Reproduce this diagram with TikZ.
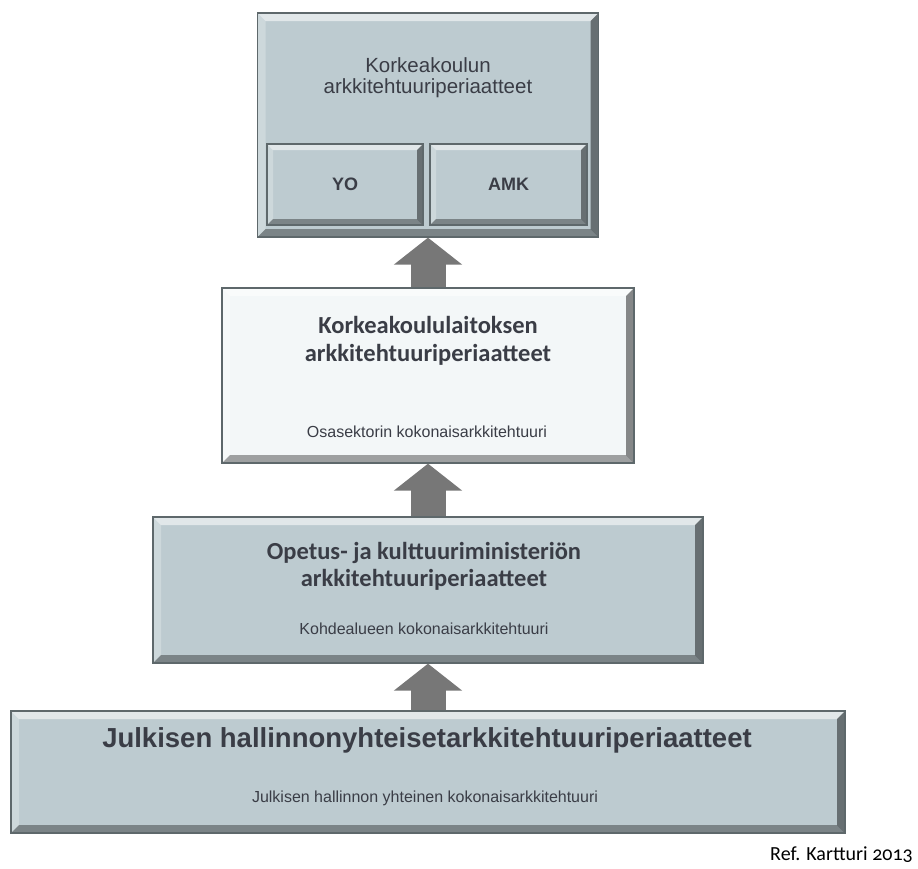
\documentclass[tikz,border=0pt]{standalone}
\usepackage{fontspec}
\setmainfont{Liberation Sans}
\newfontfamily\calfont{Carlito}
\newfontfamily\reffont[Numbers=OldStyle]{Carlito}
\usetikzlibrary{arrows.meta, calc}

\definecolor{platefill}{HTML}{BDCBD0}
\definecolor{paperfill}{HTML}{F3F7F8}
\definecolor{edgegray}{HTML}{5E686B}
\definecolor{arrowgray}{HTML}{777777}
\definecolor{inkgray}{HTML}{3A3D46}

\tikzset{
  bevel/.store in=\bevw, bevel=8pt,
  plate/.style={rectangle, draw=edgegray, line width=1.3pt, inner sep=0pt,
    path picture={
      \coordinate (pa) at (path picture bounding box.north west);
      \coordinate (pb) at (path picture bounding box.north east);
      \coordinate (pc) at (path picture bounding box.south east);
      \coordinate (pd) at (path picture bounding box.south west);
      % light top and left, dark right and bottom
      \fill[white, opacity=.55] (pa) -- (pb) -- ($(pb)+(-\bevw,-\bevw)$) -- ($(pa)+(\bevw,-\bevw)$) -- cycle;
      \fill[white, opacity=.25] (pa) -- (pd) -- ($(pd)+(\bevw,\bevw)$) -- ($(pa)+(\bevw,-\bevw)$) -- cycle;
      \fill[black, opacity=.45] (pb) -- (pc) -- ($(pc)+(-\bevw,\bevw)$) -- ($(pb)+(-\bevw,-\bevw)$) -- cycle;
      \fill[black, opacity=.35] (pd) -- (pc) -- ($(pc)+(-\bevw,\bevw)$) -- ($(pd)+(\bevw,\bevw)$) -- cycle;
    }},
  uparrow/.style={draw=arrowgray, line width=35pt,
    -{Triangle[width=67pt, length=27pt]}},
  txt/.style={text=inkgray, align=center, inner sep=0pt},
}

\begin{document}
\begin{tikzpicture}[x=1pt, y=-1pt]
  \useasboundingbox (0,0) rectangle (918,868);

  \node[plate, fill=platefill, minimum width=341pt, minimum height=224pt] (hei) at (428,125) {};
  \node[plate, fill=platefill, bevel=6pt, minimum width=156pt, minimum height=81pt,
        font=\bfseries\fontsize{18}{20}\selectfont, text=inkgray] (yo) at (345,184.5) {YO};
  \node[plate, fill=platefill, bevel=6pt, minimum width=157pt, minimum height=81pt,
        font=\bfseries\fontsize{18}{20}\selectfont, text=inkgray] (amk) at (508.5,184.5) {AMK};
  \node[txt, font=\fontsize{20.5}{21}\selectfont] (heit) at (428,78) {Korkeakoulun\\arkkitehtuuriperiaatteet};

  \node[plate, fill=paperfill, minimum width=412pt, minimum height=175pt] (inst) at (428,375.5) {};
  \node[txt, font=\calfont\bfseries\fontsize{24.5}{28}\selectfont] (instt) at (428,341) {Korkeakoululaitoksen\\arkkitehtuuriperiaatteet};
  \node[txt, font=\fontsize{16}{17}\selectfont] (insts) at (427,432) {Osasektorin kokonaisarkkitehtuuri};

  \node[plate, fill=platefill, minimum width=550pt, minimum height=146pt] (okm) at (428,590) {};
  \node[txt, font=\calfont\bfseries\fontsize{24.5}{27}\selectfont] (okmt) at (424,566.5) {Opetus- ja kulttuuriministeriön\\arkkitehtuuriperiaatteet};
  \node[txt, font=\fontsize{16}{17}\selectfont] (okms) at (424,629) {Kohdealueen kokonaisarkkitehtuuri};

  \node[plate, fill=platefill, minimum width=834pt, minimum height=122pt] (jhs) at (428,772) {};
  \node[txt, font=\bfseries\fontsize{27.5}{30}\selectfont] (jhst) at (427,740) {Julkisen hallinnonyhteisetarkkitehtuuriperiaatteet};
  \node[txt, font=\fontsize{16}{17}\selectfont] (jhss) at (425,798) {Julkisen hallinnon yhteinen kokonaisarkkitehtuuri};

  \draw[uparrow] (jhs.north) -- (okm.south);
  \draw[uparrow] (okm.north) -- (inst.south);
  \draw[uparrow] (inst.north) -- (hei.south);

  \node[txt, anchor=east, font=\reffont\fontsize{20}{22}\selectfont, text=black] (ref) at (913,855) {Ref. Kartturi 2013};
\end{tikzpicture}
\end{document}
